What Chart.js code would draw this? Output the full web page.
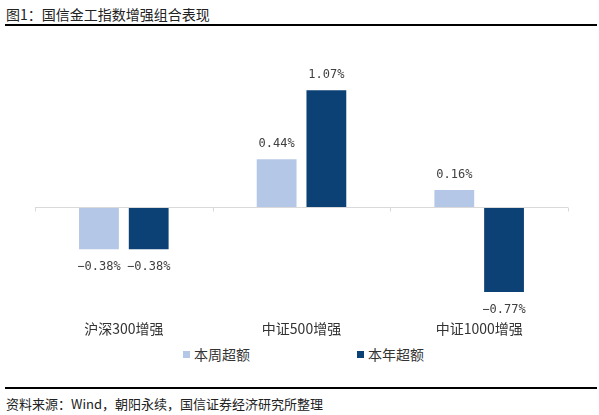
<!DOCTYPE html>
<html>
<head>
<meta charset="utf-8">
<script src="https://cdn.jsdelivr.net/npm/chart.js@4.4.0/dist/chart.umd.min.js"></script>
<style>
body { margin: 0; width: 599px; height: 415px; position: relative; background: #fff; font-family: "Noto Sans CJK SC", sans-serif; color: #222; overflow: hidden; }
.title { position: absolute; left: 6px; top: 4px; font-size: 14px; }
.rule { position: absolute; left: 5px; width: 592px; height: 2px; background: #000; }
.src { position: absolute; left: 6px; top: 394px; font-size: 13px; }
#wrap { position: absolute; left: 0; top: 30px; width: 599px; height: 313px; }
.legend { position: absolute; top: 344px; font-size: 14px; color: #333; }
.legend span.box { display: inline-block; width: 7px; height: 7px; margin-right: 4px; vertical-align: 2px; }
</style>
</head>
<body>
<div class="title">图1：国信金工指数增强组合表现</div>
<div class="rule" style="top:24px"></div>
<div id="wrap"><canvas id="bars" width="599" height="313"></canvas></div>
<div class="legend" id="lg1" style="left:183px"></div>
<div class="legend" id="lg2" style="left:357px"></div>
<div class="rule" style="top:387px"></div>
<div class="src">资料来源：Wind，朝阳永续，国信证券经济研究所整理</div>
<script>
const categories = ["沪深300增强", "中证500增强", "中证1000增强"];
const weekly = [-0.38, 0.44, 0.16];
const ytd = [-0.38, 1.07, -0.77];
const seriesNames = ["本周超额", "本年超额"];
const colors = ["#b4c7e7", "#0b4174"];

// value labels above / below each bar
const barLabels = {
    id: "barLabels",
    afterDatasetsDraw(chart) {
        const ctx = chart.ctx;
        ctx.save();
        ctx.font = "12px 'DejaVu Sans Mono', monospace";
        ctx.fillStyle = "#404040";
        ctx.textAlign = "center";
        ctx.textBaseline = "middle";
        chart.data.datasets.forEach((ds, i) => {
            chart.getDatasetMeta(i).data.forEach((bar, j) => {
                const v = ds.data[j];
                const txt = (v < 0 ? "\u2212" : "") + Math.abs(v).toFixed(2) + "%";
                const y = v >= 0 ? bar.y - 15 : bar.y + 18;
                ctx.fillText(txt, bar.x, y);
            });
        });
        ctx.restore();
    }
};

// small tick marks on the zero line at category edges
const zeroTicks = {
    id: "zeroTicks",
    afterDraw(chart) {
        const ctx = chart.ctx;
        const y0 = chart.scales.y.getPixelForValue(0);
        ctx.save();
        ctx.strokeStyle = "#d9d9d9";
        ctx.lineWidth = 1;
        for (let i = 0; i <= categories.length; i++) {
            const px = Math.round(chart.chartArea.left + i * (chart.chartArea.right - chart.chartArea.left) / categories.length) + 0.5;
            ctx.beginPath();
            ctx.moveTo(px, y0);
            ctx.lineTo(px, y0 + 4);
            ctx.stroke();
        }
        ctx.restore();
    }
};

const chart = new Chart(document.getElementById("bars"), {
    type: "bar",
    data: {
        labels: categories,
        datasets: [
            { label: seriesNames[0], data: weekly, backgroundColor: colors[0] },
            { label: seriesNames[1], data: ytd, backgroundColor: colors[1] }
        ]
    },
    options: {
        responsive: false,
        animation: false,
        categoryPercentage: 0.56,
        barPercentage: 0.8,
        layout: { padding: { left: 35, right: 31, top: 46, bottom: 0 } },
        plugins: { legend: { display: false }, tooltip: { enabled: false } },
        scales: {
            x: {
                grid: { display: false },
                border: { display: false },
                ticks: { color: "#333", font: { size: 14, family: "Noto Sans CJK SC" }, padding: 6 }
            },
            y: {
                min: -0.9,
                max: 1.2,
                ticks: { display: false, stepSize: 0.1 },
                border: { display: false },
                grid: {
                    drawTicks: false,
                    color: (c) => Math.abs(c.tick.value) < 1e-9 ? "#d9d9d9" : "rgba(0,0,0,0)"
                }
            }
        }
    },
    plugins: [barLabels, zeroTicks]
});

// legend
["lg1", "lg2"].forEach((id, i) => {
    document.getElementById(id).innerHTML =
        '<span class="box" style="background:' + colors[i] + '"></span>' + seriesNames[i];
});
</script>
</body>
</html>
